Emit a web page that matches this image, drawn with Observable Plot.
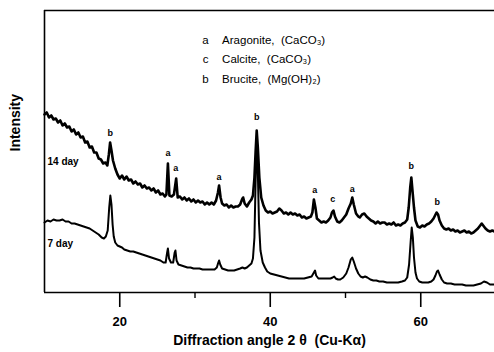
<!DOCTYPE html>
<html><head><meta charset="utf-8">
<script src="https://cdn.jsdelivr.net/npm/d3@7"></script>
<script src="https://cdn.jsdelivr.net/npm/@observablehq/plot@0.6"></script>
<style>body{margin:0;background:#fff}</style>
</head><body><div id="chart"></div>
<script>
// 14 day trace: angle (2θ, degrees) and intensity (arbitrary units)
const day14Angle = [10.0,10.3,10.6,10.9,11.2,11.5,11.8,12.1,12.4,12.7,13.0,13.3,13.6,13.9,14.2,14.5,14.8,15.1,15.4,15.7,16.0,16.3,16.6,16.9,17.2,17.5,17.8,18.1,18.35,18.55,18.72,18.9,19.1,19.4,19.7,20.0,20.3,20.6,20.9,21.2,21.5,21.8,22.1,22.4,22.7,23.0,23.3,23.6,23.9,24.2,24.5,24.8,25.1,25.4,25.7,26.0,26.2,26.4,26.6,26.9,27.2,27.5,27.7,28.0,28.3,28.6,28.9,29.2,29.5,29.8,30.1,30.4,30.7,31.0,31.3,31.6,31.9,32.2,32.5,32.8,33.05,33.2,33.4,33.6,33.9,34.2,34.5,34.8,35.1,35.4,35.7,36.0,36.25,36.4,36.6,36.9,37.2,37.5,37.7,37.9,38.05,38.2,38.35,38.55,38.8,39.1,39.4,39.7,40.0,40.3,40.6,40.9,41.2,41.5,41.8,42.1,42.4,42.7,43.0,43.3,43.6,43.9,44.2,44.5,44.8,45.1,45.4,45.6,45.8,46.0,46.2,46.5,46.8,47.1,47.4,47.7,48.0,48.2,48.4,48.6,48.9,49.2,49.5,49.8,50.1,50.4,50.7,50.9,51.1,51.4,51.7,51.9,52.2,52.5,52.8,53.1,53.4,53.7,54.0,54.3,54.6,54.9,55.2,55.5,55.8,56.1,56.4,56.7,57.0,57.3,57.6,57.9,58.2,58.4,58.6,58.75,58.9,59.1,59.3,59.6,59.9,60.2,60.5,60.8,61.1,61.4,61.7,61.9,62.1,62.3,62.5,62.8,63.1,63.4,63.7,64.0,64.3,64.6,64.9,65.2,65.5,65.8,66.1,66.4,66.7,67.0,67.3,67.6,67.9,68.1,68.3,68.6,68.9,69.2,69.5,69.8];
const day14Intensity = [178,180,175,177,173,174,170,172,167,169,165,166,161,163,158,160,155,156,150,151,145,146,140,140,134,133,129,130,127,138,150,142,132,124,118,114,117,113,116,112,113,109,111,108,109,105,107,104,105,102,104,100,102,98,99,96,98,129,97,96,98,114,95,96,93,95,92,94,91,93,90,92,90,91,88,90,88,90,88,92,100,107,95,89,87,88,85,87,85,86,86,88,93,95,89,86,90,93,97,115,140,162,145,115,95,87,82,80,81,79,80,81,84,82,79,80,78,80,78,79,77,78,75,76,74,75,76,80,93,85,74,72,70,71,70,72,75,80,82,76,71,70,72,75,78,84,89,95,88,79,76,75,78,79,76,74,72,71,69,71,69,70,70,68,69,68,70,67,68,67,69,70,73,85,105,115,102,85,72,66,65,67,66,68,69,71,74,77,80,78,72,67,64,63,64,62,63,61,62,60,61,62,60,61,59,60,62,64,67,69,67,64,62,61,62,61];

// 7 day trace
const day7Angle = [10.0,10.4,10.8,11.2,11.6,12.0,12.4,12.8,13.2,13.6,14.0,14.4,14.8,15.2,15.6,16.0,16.4,16.8,17.2,17.6,17.9,18.15,18.4,18.6,18.75,18.9,19.05,19.2,19.4,19.7,20.0,20.3,20.6,21.0,21.4,21.8,22.2,22.6,23.0,23.4,23.8,24.2,24.6,25.0,25.4,25.8,26.1,26.3,26.4,26.55,26.8,27.1,27.3,27.4,27.55,27.8,28.2,28.6,29.0,29.4,29.8,30.2,30.6,31.0,31.4,31.8,32.2,32.6,32.9,33.1,33.2,33.35,33.6,34.0,34.4,34.8,35.2,35.6,36.0,36.3,36.6,36.9,37.2,37.5,37.7,37.9,38.05,38.2,38.35,38.5,38.7,39.0,39.3,39.6,40.0,40.5,41.0,41.5,42.0,42.5,43.0,43.5,44.0,44.5,45.0,45.5,45.8,45.95,46.1,46.4,46.8,47.2,47.6,48.0,48.3,48.5,48.7,49.0,49.3,49.7,50.1,50.4,50.7,50.9,51.1,51.4,51.7,52.0,52.3,52.6,52.9,53.3,53.7,54.1,54.5,55.0,55.5,56.0,56.5,57.0,57.5,57.9,58.2,58.45,58.65,58.8,58.95,59.1,59.3,59.5,59.8,60.2,60.6,61.0,61.4,61.7,61.95,62.15,62.3,62.5,62.8,63.1,63.5,64.0,64.5,65.0,65.5,66.0,66.5,67.0,67.5,68.0,68.4,68.8,69.2,69.8];
const day7Intensity = [70,72,71,73,72,72,73,71,71,69,69,68,67,66,65,64,62,60,58,55,54,56,62,85,97,88,68,56,50,47,46,45,43,42,41,41,40,39,38,37,36,35,34,33,32,30,30,40,44,34,30,30,40,42,32,28,27,26,25,25,24,24,24,23,23,23,23,23,25,30,32,28,24,23,22,22,22,23,24,25,24,25,27,29,34,55,110,150,120,70,42,30,25,21,19,18,17,16,15,14,14,14,14,14,15,16,20,22,17,14,14,14,14,14,15,16,14,13,13,15,19,25,33,35,31,24,19,16,15,16,15,13,12,12,11,11,10,10,10,10,11,12,15,28,50,65,55,35,20,14,11,10,10,10,11,13,17,21,22,18,13,10,9,9,8,8,8,7,7,7,8,9,11,10,8,8];

// phase labels above 14 day peaks
const peakLetter = ["b","a","a","a","b","a","c","a","b","b"];
const peakAngle = [18.75,26.4,27.45,33.2,38.2,45.9,48.3,50.9,58.75,62.2];
const peakLevel = [159,139,124,115,175,102,93,103,126,90];

// legend
const legendKey = ["a","c","b"];
const legendName = ["Aragonite,\u00a0 (CaCO\u2083)","Calcite,\u00a0 (CaCO\u2083)","Brucite,\u00a0 (Mg(OH)\u2082)"];
const legendLevel = [252,233,213];

const traceNames = ["14 day","7 day"];
const traceNameLevel = [131,49];

const xMajorTicks = [20,40,60];
const xMinorTicks = [30,50];

const d14 = day14Angle.map((a,i)=>({a, v: day14Intensity[i]}));
const d7 = day7Angle.map((a,i)=>({a, v: day7Intensity[i]}));
const peaks = peakLetter.map((t,i)=>({t, a: peakAngle[i], v: peakLevel[i]}));
const legend = legendKey.map((k,i)=>({k, n: legendName[i], v: legendLevel[i]}));
const names = traceNames.map((t,i)=>({t, v: traceNameLevel[i]}));

const font = "Liberation Sans, Arial, sans-serif";
const chart = Plot.plot({
  width: 494, height: 352,
  marginLeft: 44, marginRight: 0, marginTop: 10, marginBottom: 60,
  style: {fontFamily: font, background: "#fff", color: "#000"},
  x: {domain: [10, 69.8]},
  y: {domain: [0, 282], axis: null},
  marks: [
    Plot.ruleY([0, 282], {stroke: "#000", strokeWidth: 1.6}),
    Plot.ruleX([10], {stroke: "#000", strokeWidth: 1.6}),
    Plot.axisX({ticks: xMinorTicks, tickSize: 6, text: null, strokeWidth: 1.4, label: null}),
    Plot.axisX({ticks: xMajorTicks, tickSize: 15, tickPadding: 9, tickFormat: d => d, fontSize: 13, fontWeight: "bold", strokeWidth: 1.6, label: null}),
    Plot.line(d14, {x: "a", y: "v", stroke: "#000", strokeWidth: 2.6, strokeLinejoin: "round"}),
    Plot.line(d7, {x: "a", y: "v", stroke: "#000", strokeWidth: 2, strokeLinejoin: "round"}),
    Plot.text(peaks, {x: "a", y: "v", text: "t", fontSize: 9, fontWeight: "bold", fill: "#000"}),
    Plot.text(names, {x: 10.4, y: "v", text: "t", textAnchor: "start", fontSize: 10, fontWeight: "bold", fill: "#000"}),
    Plot.text(legend, {x: 31.4, y: "v", text: "k", fontSize: 11.5, fill: "#000"}),
    Plot.text(legend, {x: 33.6, y: "v", text: "n", textAnchor: "start", fontSize: 11.5, fill: "#000"}),
    Plot.text(["Diffraction angle 2 \u03b8\u00a0 (Cu-K\u03b1)"], {frameAnchor: "bottom", dy: 52, fontSize: 14, fontWeight: "bold", fill: "#000"}),
    Plot.text(["Intensity"], {frameAnchor: "left", dx: -29, rotate: -90, fontSize: 14, fontWeight: "bold", fill: "#000"})
  ]
});
document.getElementById("chart").append(chart);
</script></body></html>
